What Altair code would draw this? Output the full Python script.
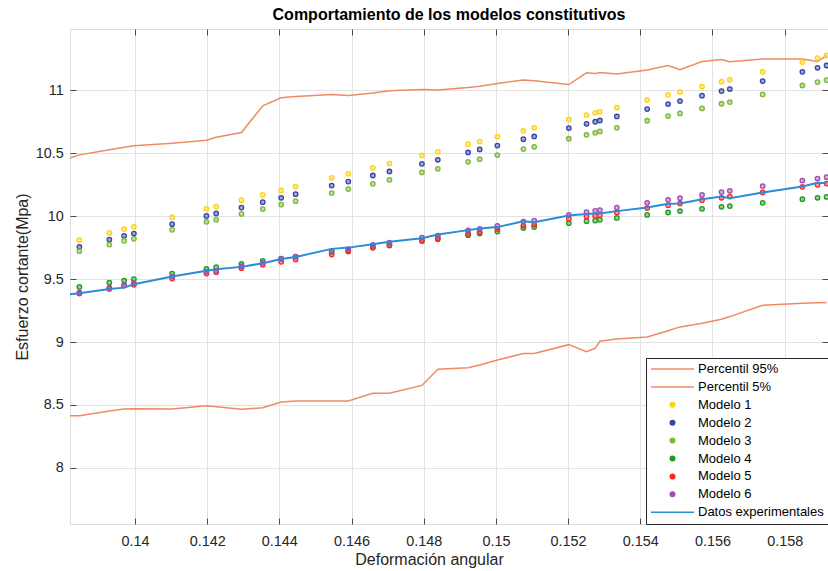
import altair as alt
import pandas as pd

FONT = "Liberation Sans"
TITLE = "Comportamiento de los modelos constitutivos"
X_LABEL = "Deformación angular"
Y_LABEL = "Esfuerzo cortante(Mpa)"

SERIES = ["Percentil 95%", "Percentil 5%", "Modelo 1", "Modelo 2", "Modelo 3",
          "Modelo 4", "Modelo 5", "Modelo 6", "Datos experimentales"]
COLORS = ["#F08A64", "#F08A64", "#FFD21A", "#3546A5", "#7CB83C",
          "#1F9A1F", "#FF2626", "#9E4DB3", "#2B8CD8"]
SHAPES = ["stroke", "stroke", "circle", "circle", "circle",
          "circle", "circle", "circle", "stroke"]
SIZES = [1849, 1849, 20, 20, 20, 20, 20, 20, 1849]

X_TICKS = [0.14, 0.142, 0.144, 0.146, 0.148, 0.15, 0.152, 0.154, 0.156, 0.158]
Y_TICKS = [8, 8.5, 9, 9.5, 10, 10.5, 11]
X_LIMITS = [0.1382, 0.1592]
Y_LIMITS = [7.554, 11.487]

X_START = 0.1382
X = [0.13846, 0.13929, 0.13970, 0.13997, 0.14103, 0.14198, 0.14225, 0.14295, 0.14354,
     0.14405, 0.14445, 0.14545, 0.14591, 0.14659, 0.14705, 0.14795, 0.14839, 0.14923,
     0.14955, 0.15004, 0.15076, 0.15106, 0.15202, 0.15251, 0.15275, 0.15288, 0.15335,
     0.15419, 0.15477, 0.15510, 0.15571, 0.15625, 0.15648, 0.15739, 0.15849, 0.15891,
     0.15916]

M1 = [9.809, 9.867, 9.897, 9.915, 9.992, 10.058, 10.076, 10.127, 10.169, 10.204, 10.235,
      10.305, 10.336, 10.384, 10.418, 10.482, 10.511, 10.572, 10.593, 10.631, 10.678,
      10.702, 10.768, 10.803, 10.821, 10.829, 10.863, 10.922, 10.964, 10.986, 11.030,
      11.068, 11.084, 11.147, 11.224, 11.256, 11.277]
M2 = [9.756, 9.814, 9.843, 9.862, 9.936, 10.002, 10.021, 10.068, 10.111, 10.146, 10.175,
      10.243, 10.275, 10.323, 10.355, 10.416, 10.448, 10.506, 10.530, 10.561, 10.612,
      10.633, 10.700, 10.734, 10.750, 10.760, 10.792, 10.851, 10.891, 10.914, 10.957,
      10.994, 11.010, 11.073, 11.147, 11.179, 11.197]
M3 = [9.722, 9.774, 9.804, 9.820, 9.891, 9.955, 9.971, 10.018, 10.056, 10.092, 10.119,
      10.183, 10.215, 10.257, 10.289, 10.347, 10.376, 10.432, 10.453, 10.485, 10.533,
      10.551, 10.615, 10.646, 10.662, 10.673, 10.702, 10.758, 10.795, 10.816, 10.856,
      10.893, 10.906, 10.967, 11.038, 11.065, 11.081]
M4 = [9.438, 9.472, 9.488, 9.499, 9.544, 9.581, 9.595, 9.621, 9.645, 9.663, 9.679,
      9.716, 9.726, 9.756, 9.770, 9.802, 9.816, 9.849, 9.862, 9.878, 9.905, 9.913,
      9.944, 9.960, 9.965, 9.971, 9.986, 10.010, 10.029, 10.040, 10.058, 10.074, 10.080,
      10.106, 10.135, 10.146, 10.153]
M5 = [9.385, 9.422, 9.448, 9.454, 9.504, 9.544, 9.555, 9.587, 9.613, 9.637, 9.655,
      9.695, 9.719, 9.748, 9.766, 9.806, 9.825, 9.859, 9.873, 9.897, 9.923, 9.933,
      9.979, 9.997, 10.002, 10.008, 10.029, 10.064, 10.087, 10.100, 10.127, 10.146,
      10.156, 10.188, 10.233, 10.249, 10.259]
M6 = [9.393, 9.432, 9.451, 9.467, 9.520, 9.560, 9.567, 9.602, 9.629, 9.660, 9.679,
      9.724, 9.738, 9.772, 9.790, 9.830, 9.846, 9.886, 9.899, 9.923, 9.957, 9.965,
      10.010, 10.032, 10.042, 10.048, 10.068, 10.106, 10.130, 10.143, 10.169, 10.191,
      10.201, 10.239, 10.283, 10.299, 10.310]

# line series: first value at the left axis limit, then the same x grid
EXP = [9.380, 9.388, 9.422, 9.432, 9.459, 9.520, 9.567, 9.579, 9.597, 9.626, 9.660,
       9.676, 9.740, 9.750, 9.777, 9.796, 9.825, 9.854, 9.889, 9.901, 9.913, 9.960,
       9.952, 10.005, 10.018, 10.021, 10.021, 10.040, 10.068, 10.098, 10.100, 10.135,
       10.156, 10.143, 10.188, 10.235, 10.265, 10.262]
P95 = [10.461, 10.487, 10.527, 10.547, 10.559, 10.579, 10.603, 10.627, 10.665, 10.877,
       10.941, 10.951, 10.967, 10.959, 10.978, 10.996, 11.006, 11.002, 11.022, 11.032,
       11.054, 11.081, 11.076, 11.046, 11.139, 11.134, 11.142, 11.129, 11.161, 11.197,
       11.163, 11.229, 11.245, 11.227, 11.248, 11.248, 11.229, 11.275]
P5 = [8.415, 8.415, 8.452, 8.468, 8.470, 8.468, 8.494, 8.486, 8.465, 8.478, 8.523,
      8.531, 8.531, 8.531, 8.593, 8.593, 8.655, 8.783, 8.796, 8.818, 8.857, 8.908,
      8.908, 8.979, 8.923, 8.950, 9.006, 9.024, 9.040, 9.090, 9.120, 9.149, 9.181,
      9.202, 9.292, 9.308, 9.311, 9.313]

X_LINE = [X_START] + X

pct_rows = []
for name, vals in [("Percentil 95%", P95), ("Percentil 5%", P5)]:
    for xv, yv in zip(X_LINE, vals):
        pct_rows.append({"x": xv, "y": yv, "series": name})
pct_df = pd.DataFrame(pct_rows)

pt_rows = []
for name, vals in [("Modelo 1", M1), ("Modelo 2", M2), ("Modelo 3", M3),
                   ("Modelo 4", M4), ("Modelo 5", M5), ("Modelo 6", M6)]:
    for xv, yv in zip(X, vals):
        pt_rows.append({"x": xv, "y": yv, "series": name})
pt_df = pd.DataFrame(pt_rows)

exp_df = pd.DataFrame({"x": X_LINE, "y": EXP, "series": ["Datos experimentales"] * len(EXP)})

AX_COLOR = "#262626"
BOX_COLOR = "#4a4a4a"
GRID = "#e3e3e3"

x_scale = alt.Scale(domain=X_LIMITS, nice=False, zero=False)
y_scale = alt.Scale(domain=Y_LIMITS, nice=False, zero=False)
stroke_scale = alt.Scale(domain=SERIES, range=COLORS)
fill_scale = alt.Scale(domain=SERIES, range=COLORS)
shape_scale = alt.Scale(domain=SERIES, range=SHAPES)
size_scale = alt.Scale(type="ordinal", domain=SERIES, range=SIZES)

LEG = alt.Legend(title=None, orient="bottom-right", offset=0, fillColor="white",
                 strokeColor=AX_COLOR, padding=4, rowPadding=3.9, clipHeight=14,
                 labelFontSize=13, labelFont=FONT, labelColor="#000000",
                 symbolStrokeWidth=1.5, symbolOpacity=1, labelOffset=3, labelLimit=0,
                 cornerRadius=0)

x_axis = alt.Axis(values=X_TICKS, format="~g", title=X_LABEL, labelFontSize=14.4,
                  labelFont=FONT, labelColor=AX_COLOR, titleFontSize=16, titleFont=FONT,
                  titleColor=AX_COLOR, titleFontWeight="normal", grid=True, gridColor=GRID,
                  domain=False, ticks=True, tickSize={"expr": "-6"}, tickColor=BOX_COLOR,
                  labelPadding=16, titlePadding=4, titleX=359, titleAlign="center",
                  labelFlush=False, labelOverlap=False)
y_axis = alt.Axis(values=Y_TICKS, format="~g", title=Y_LABEL, labelFontSize=14.4,
                  labelFont=FONT, labelColor=AX_COLOR, titleFontSize=16, titleFont=FONT,
                  titleColor=AX_COLOR, titleFontWeight="normal", grid=True, gridColor=GRID,
                  domain=False, ticks=True, tickSize={"expr": "-6"}, tickColor=BOX_COLOR,
                  labelPadding=12.7, titlePadding=5, labelFlush=False, labelOverlap=False)
x_top = alt.Axis(orient="top", values=X_TICKS, labels=False, domain=False, grid=False,
                 title=None, ticks=True, tickSize={"expr": "-6"}, tickColor=BOX_COLOR)
y_right = alt.Axis(orient="right", values=Y_TICKS, labels=False, domain=False, grid=False,
                   title=None, ticks=True, tickSize={"expr": "-6"}, tickColor=BOX_COLOR)

pct = alt.Chart(pct_df).mark_line(strokeWidth=1.5, clip=True).encode(
    x=alt.X("x:Q", scale=x_scale, axis=x_axis),
    y=alt.Y("y:Q", scale=y_scale, axis=y_axis),
    stroke=alt.Stroke("series:N", scale=stroke_scale, legend=LEG),
    detail="series:N",
)

pts = alt.Chart(pt_df).mark_point(filled=True, clip=True, strokeWidth=1.3,
                                  fillOpacity=0.45, strokeOpacity=1).encode(
    x=alt.X("x:Q", scale=x_scale, axis=None),
    y=alt.Y("y:Q", scale=y_scale, axis=None),
    fill=alt.Fill("series:N", scale=fill_scale, legend=LEG),
    stroke=alt.Stroke("series:N", scale=stroke_scale, legend=LEG),
    shape=alt.Shape("series:N", scale=shape_scale, legend=LEG),
    size=alt.Size("series:N", scale=size_scale, legend=LEG),
)

exp = alt.Chart(exp_df).mark_line(strokeWidth=2, clip=True).encode(
    x=alt.X("x:Q", scale=x_scale, axis=x_top),
    y=alt.Y("y:Q", scale=y_scale, axis=y_right),
    stroke=alt.Stroke("series:N", scale=stroke_scale, legend=LEG),
)

chart = alt.layer(pct, pts, exp).resolve_axis(
    x="independent", y="independent"
).properties(
    width=758, height=495,
    title=alt.TitleParams(TITLE, fontSize=16, fontWeight="bold", font=FONT,
                          color="#000000", anchor="middle", offset=6),
    autosize=alt.AutoSizeParams(type="none"),
    padding={"left": 70, "top": 29, "right": 0, "bottom": 47},
).configure_view(stroke=BOX_COLOR, strokeWidth=1).configure(background="white")

chart.save("out.html", embed_options={"renderer": "svg", "actions": False})
